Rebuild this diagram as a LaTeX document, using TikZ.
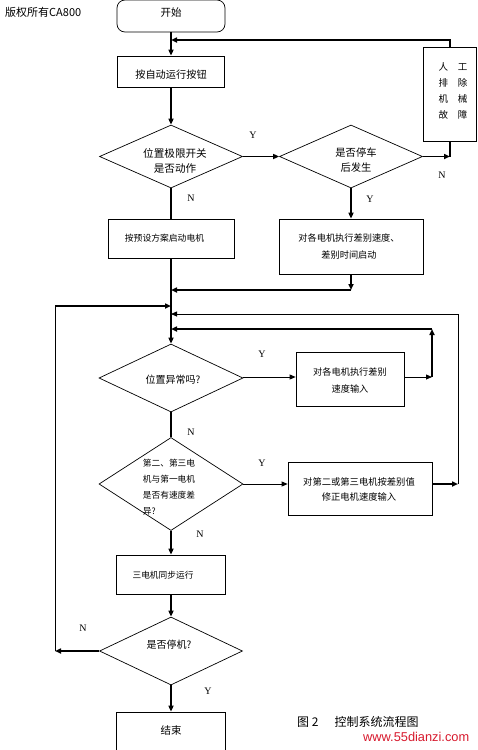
\documentclass[tikz,border=0pt]{standalone}
\usepackage{fontspec}
\setmainfont{Liberation Serif}
\newfontfamily\cjk{Noto Sans CJK SC}
\newfontfamily\lsans{Liberation Sans}
\usetikzlibrary{arrows.meta,shapes.geometric}
\definecolor{urlred}{RGB}{215,25,45}
\begin{document}
\begin{tikzpicture}[x=1pt,y=-1pt,
  thk/.style={line width=1.6pt},
  thn/.style={line width=0.8pt},
  arr/.style={-{Triangle[length=6pt,width=5pt]}},
  box/.style={draw, line width=0.7pt, rectangle, inner sep=0pt},
  diam/.style={draw, line width=0.7pt, diamond, inner sep=0pt},
  lbl/.style={font=\fontsize{10}{12}\selectfont},
  txt/.style={font=\cjk\fontsize{9.2}{17}\selectfont, align=center, inner sep=0pt},
]
\useasboundingbox (0,0) rectangle (477,750);
\clip (0,0) rectangle (477,750);

% title
\node[anchor=west, font=\cjk\fontsize{11}{13}\selectfont, inner sep=0pt] (title) at (5,12) {版权所有CA800};

% nodes
\node[box, rounded corners=8pt, minimum width=108pt, minimum height=32pt] (start) at (171,16) {};
\node[txt, font=\cjk\fontsize{10.5}{12}\selectfont] (tstart) at (171,13) {开始};

\node[box, minimum width=107pt, minimum height=31pt] (b1) at (171,71.5) {};
\node[txt, font=\cjk\fontsize{10.2}{12}\selectfont] (tb1) at (171,75) {按自动运行按钮};

\node[box, minimum width=53pt, minimum height=94pt] (b2) at (450,94) {};
\node[txt, font=\cjk\fontsize{9.5}{16}\selectfont] (tb2) at (453,90.5) {人\hspace{10pt}工\\排\hspace{10pt}除\\机\hspace{10pt}械\\故\hspace{10pt}障};

\node[diam, minimum width=143pt, minimum height=63pt] (d1) at (171,156.5) {};
\node[txt, font=\cjk\fontsize{10.6}{15}\selectfont] (td1) at (175,160.5) {位置极限开关\\是否动作};

\node[diam, minimum width=143pt, minimum height=63pt] (d2) at (351,156.5) {};
\node[txt, font=\cjk\fontsize{10.3}{15}\selectfont] (td2) at (356,160.5) {是否停车\\后发生};

\node[box, minimum width=126pt, minimum height=39pt] (b3) at (171,238.5) {};
\node[txt, font=\cjk\fontsize{8.8}{12}\selectfont] (tb3) at (164.5,238) {按预设方案启动电机};

\node[box, minimum width=144pt, minimum height=55pt] (b4) at (351,246.5) {};
\node[txt] (tb4) at (349,246.5) {对各电机执行差别速度、\\差别时间启动};

\node[diam, minimum width=144pt, minimum height=68pt] (d3) at (171,378) {};
\node[txt, font=\cjk\fontsize{10}{12}\selectfont] (td3) at (173,380) {位置异常吗?};

\node[box, minimum width=108pt, minimum height=54pt] (b5) at (350,379) {};
\node[txt] (tb5) at (350,380.5) {对各电机执行差别\\速度输入};

\node[diam, minimum width=144pt, minimum height=93pt] (d4) at (171,484) {};
\node[txt, font=\cjk\fontsize{8.7}{16}\selectfont, align=left] (td4) at (169,487) {第二、第三电\\机与第一电机\\是否有速度差\\异?};

\node[box, minimum width=144pt, minimum height=53pt] (b6) at (360,488.5) {};
\node[txt, font=\cjk\fontsize{9.3}{15}\selectfont] (tb6) at (359,489.5) {对第二或第三电机按差别值\\修正电机速度输入};

\node[box, minimum width=109pt, minimum height=39pt] (b7) at (171,574.5) {};
\node[txt, font=\cjk\fontsize{8.7}{12}\selectfont] (tb7) at (163,575) {三电机同步运行};

\node[diam, minimum width=143pt, minimum height=68pt] (d5) at (171,651) {};
\node[txt, font=\cjk\fontsize{10}{12}\selectfont] (td5) at (169,645) {是否停机?};

\node[box, minimum width=109pt, minimum height=48pt] (b8) at (171,736) {};
\node[txt, font=\cjk\fontsize{10.5}{12}\selectfont] (tb8) at (171,730) {结束};

% junction coordinates
\coordinate (j1) at (171,40);
\coordinate (j2) at (171,290);
\coordinate (c4) at (351,290);
\coordinate (j3) at (171,306);
\coordinate (lp) at (55,651);
\coordinate (j4) at (171,314);
\coordinate (c6) at (458,484);
\coordinate (c7) at (432,377);
\coordinate (c8) at (432,329);
\coordinate (j5) at (171,329);

% connectors
\draw[thk,arr] (start) -- (b1);
\draw[thk,arr] (b2.north) |- (j1);
\draw[thk,arr] (b1) -- (d1);
\draw[thk,arr] (d1) -- (d2);
\draw[thk,arr] (d2.east) -- (d2.east -| b2.south);
\draw[thk] (b2.south) -- (d2.east -| b2.south);
\draw[thk,arr] (d2) -- (b4);
\draw[thk] (d1) -- (b3);
\draw[thk,arr] (b3) -- (d3);
\draw[thk,arr] (b4) -- (c4);
\draw[thk,arr] (c4) -- (j2);
\draw[thn,arr] (d3.east |- c7) -- (b5.west |- c7);
\draw[thn,arr] (b5.east |- c7) -- (c7);
\draw[thk,arr] (c7) -- (c8);
\draw[thk,arr] (c8) -- (j5);
\draw[thk] (d3) -- (d4);
\draw[thn,arr] (d4.east) -- (d4.east -| b6.west);
\draw[thk,arr] (d4.east -| b6.east) -- (c6);
\draw[thn,arr] (c6) |- (j4);
\draw[thk,arr] (d4) -- (b7);
\draw[thk,arr] (b7) -- (d5);
\draw[thk,arr] (d5) -- (lp);
\draw[thn] (lp) -- (lp |- j3);
\draw[thk,arr] (lp |- j3) -- (j3);
\draw[thk,arr] (d5) -- (b8);

% labels
\node[lbl] (y1) at (253,135) {Y};
\node[lbl] (n1) at (191,198) {N};
\node[lbl] (n2) at (442,175) {N};
\node[lbl] (y2) at (370,199) {Y};
\node[lbl] (y3) at (262,354) {Y};
\node[lbl] (n3) at (191,432) {N};
\node[lbl] (y4) at (262,463) {Y};
\node[lbl] (n4) at (200,534) {N};
\node[lbl] (n5) at (83,628) {N};
\node[lbl] (y5) at (208,691) {Y};

% caption
\node[anchor=west, font=\cjk\fontsize{12}{14}\selectfont, inner sep=0pt] (cap) at (297,722) {图 2\hspace{16pt}控制系统流程图};
\node[anchor=west, font=\lsans\fontsize{12.8}{14}\selectfont, text=urlred, inner sep=0pt] (url) at (363,737) {www.55dianzi.com};
\end{tikzpicture}
\end{document}
